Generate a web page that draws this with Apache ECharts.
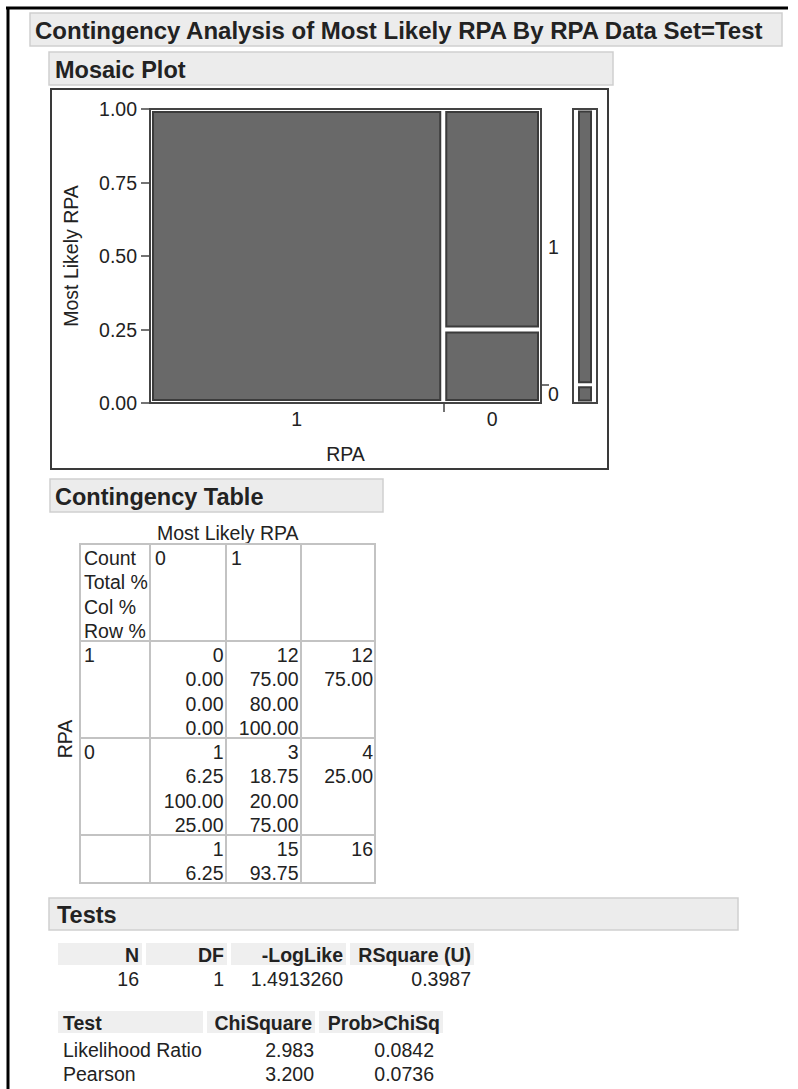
<!DOCTYPE html>
<html>
<head>
<meta charset="utf-8">
<script src="https://cdn.jsdelivr.net/npm/echarts@6/dist/echarts.min.js"></script>
<style>
html,body{margin:0;padding:0;background:#fff;}
#c{width:798px;height:1089px;}
</style>
</head>
<body>
<div id="c"></div>
<script>
// ---------------- DATA ----------------
const titleText = 'Contingency Analysis of Most Likely RPA By RPA Data Set=Test';
const rpaLevels = ['1', '0'];            // X categories (RPA), left to right
const mostLikelyLevels = ['0', '1'];     // Y categories (Most Likely RPA), bottom to top
const counts = [[0, 12], [1, 3]];        // counts[rpa][mostLikely]
const rowTotalCounts = [12, 4];
const colTotalCounts = [1, 15];
const grandTotal = 16;
const yTickValues = [0, 0.25, 0.5, 0.75, 1];
const cellLabels = ['Count', 'Total %', 'Col %', 'Row %'];
const totalPct = [['0.00', '75.00'], ['6.25', '18.75']];
const colPct = [['0.00', '80.00'], ['100.00', '20.00']];
const rowPct = [['0.00', '100.00'], ['25.00', '75.00']];
const rowTotalPct = ['75.00', '25.00'];
const colTotalPct = ['6.25', '93.75'];
const statsHeaders = ['N', 'DF', '-LogLike', 'RSquare (U)'];
const statsValues = ['16', '1', '1.4913260', '0.3987'];
const testHeaders = ['Test', 'ChiSquare', 'Prob>ChiSq'];
const testNames = ['Likelihood Ratio', 'Pearson'];
const testChiSquare = ['2.983', '3.200'];
const testProb = ['0.0842', '0.0736'];

// ---------------- LAYOUT / STYLE ----------------
const FF = '"Liberation Sans", Arial, sans-serif';
const TITLE_FONT = 'bold 24px ' + FF;
const HEAD_FONT = 'bold 23.5px ' + FF;
const BODY = 19.5;
const BODY_FONT = BODY + 'px ' + FF;
const BOLD_FONT = 'bold ' + BODY + 'px ' + FF;
const TXT = '#222222';
const CELL_FILL = '#696969';
const CELL_STROKE = '#3b3b3b';
const AX = '#444444';

// mosaic rectangles
const mosaicData = [];
let xc = 0;
rpaLevels.forEach((r, i) => {
  const w = rowTotalCounts[i] / grandTotal;
  let yc = 0;
  mostLikelyLevels.forEach((m, j) => {
    const h = counts[i][j] / rowTotalCounts[i];
    if (h > 0) mosaicData.push([xc, xc + w, yc, yc + h, i, j]);
    yc += h;
  });
  xc += w;
});
const xMids = [], xBounds = [];
xc = 0;
rpaLevels.forEach((r, i) => {
  const w = rowTotalCounts[i] / grandTotal;
  xMids.push(xc + w / 2);
  xc += w;
  if (i < rpaLevels.length - 1) xBounds.push(xc);
});
const marginData = [], yMids = [], yBounds = [];
let mc = 0;
mostLikelyLevels.forEach((m, j) => {
  const h = colTotalCounts[j] / grandTotal;
  marginData.push([0, 1, mc, mc + h, j]);
  yMids.push(mc + h / 2);
  mc += h;
  if (j < mostLikelyLevels.length - 1) yBounds.push(mc);
});
function nearestIdx(arr, v) {
  let b = 0;
  arr.forEach((a, i) => { if (Math.abs(a - v) < Math.abs(arr[b] - v)) b = i; });
  return b;
}

function cellRender(insetX, insetY) {
  return function (params, api) {
    const p0 = api.coord([api.value(0), api.value(2)]);
    const p1 = api.coord([api.value(1), api.value(3)]);
    const x = Math.min(p0[0], p1[0]) + insetX;
    const y = Math.min(p0[1], p1[1]) + insetY;
    const w = Math.abs(p1[0] - p0[0]) - 2 * insetX;
    const h = Math.abs(p1[1] - p0[1]) - 2 * insetY;
    return {
      type: 'rect',
      shape: { x: x, y: y, width: w, height: h },
      style: { fill: CELL_FILL, stroke: CELL_STROKE, lineWidth: 2 }
    };
  };
}

// ---------------- GRAPHIC (headers, tables) ----------------
const G = [];
function txt(x, y, s, font, align, extra) {
  const e = {
    type: 'text', x: x, y: y, silent: true,
    style: { text: s, font: font, fill: TXT, align: align || 'left', textAlign: align || 'left', verticalAlign: 'middle', textVerticalAlign: 'middle' }
  };
  if (extra) Object.assign(e, extra);
  G.push(e);
}
function rect(x, y, w, h, fill, stroke, lw) {
  G.push({ type: 'rect', silent: true, shape: { x: x, y: y, width: w, height: h },
    style: { fill: fill, stroke: stroke || null, lineWidth: lw || 0 } });
}
function line(x1, y1, x2, y2, color, lw) {
  G.push({ type: 'line', silent: true, shape: { x1: x1, y1: y1, x2: x2, y2: y2 },
    style: { stroke: color, lineWidth: lw } });
}
// outer frame
line(6, 8, 788, 8, '#000', 3);
line(8, 7, 8, 1089, '#000', 3);
// header boxes
function headBox(x, y, w, h, s, tx, font) {
  rect(x, y, w, h, '#ececec', '#cfcfcf', 1.5);
  txt(tx, y + h / 2 + 1, s, font || HEAD_FONT, 'left');
}
headBox(30, 13, 752, 33, titleText, 35, TITLE_FONT);
headBox(49, 52, 564, 33, 'Mosaic Plot', 55);
headBox(50, 479, 333, 33, 'Contingency Table', 55);
headBox(49, 898, 689, 32, 'Tests', 57);
// mosaic frame
rect(51, 89, 557, 380, null, '#3a3a3a', 2);

// contingency table
const colX = [80, 150, 226, 301, 375];
const rowY = [544, 641, 738, 835, 883];
const LH = 24.3;
const GL = '#c3c3c3';
txt(157, 533, 'Most Likely RPA', BODY_FONT, 'left');
txt(65, 739, 'RPA', BODY_FONT, 'center', { rotation: Math.PI / 2 });
rowY.forEach(y => line(colX[0] - 1, y, colX[4] + 1, y, GL, 2));
colX.forEach(x => line(x, rowY[0], x, rowY[4], GL, 2));
cellLabels.forEach((s, k) => txt(colX[0] + 4, rowY[0] + 14 + k * LH, s, BODY_FONT, 'left'));
mostLikelyLevels.forEach((m, j) => txt(colX[j + 1] + 5, rowY[0] + 14, m, BODY_FONT, 'left'));
rpaLevels.forEach((r, i) => {
  const y0 = rowY[i + 1] + 14;
  txt(colX[0] + 4, y0, r, BODY_FONT, 'left');
  mostLikelyLevels.forEach((m, j) => {
    const xr = colX[j + 2] - 2.5;
    [String(counts[i][j]), totalPct[i][j], colPct[i][j], rowPct[i][j]].forEach((s, k) =>
      txt(xr, y0 + k * LH, s, BODY_FONT, 'right'));
  });
  txt(colX[4] - 2, y0, String(rowTotalCounts[i]), BODY_FONT, 'right');
  txt(colX[4] - 2, y0 + LH, rowTotalPct[i], BODY_FONT, 'right');
});
const yT = rowY[3] + 14;
mostLikelyLevels.forEach((m, j) => {
  const xr = colX[j + 2] - 2.5;
  txt(xr, yT, String(colTotalCounts[j]), BODY_FONT, 'right');
  txt(xr, yT + LH, colTotalPct[j], BODY_FONT, 'right');
});
txt(colX[4] - 2, yT, String(grandTotal), BODY_FONT, 'right');

// tests: summary table
const statCells = [[58, 142], [146, 227], [231, 346], [350, 474]];
statsHeaders.forEach((s, k) => {
  rect(statCells[k][0], 943, statCells[k][1] - statCells[k][0], 22, '#efefef');
  txt(statCells[k][1] - 3, 955, s, BOLD_FONT, 'right');
  txt(statCells[k][1] - 3, 979, statsValues[k], BODY_FONT, 'right');
});
// tests: chi-square table
const testCells = [[58, 203], [207, 315], [319, 443]];
testHeaders.forEach((s, k) => {
  rect(testCells[k][0], 1011, testCells[k][1] - testCells[k][0], 22, '#efefef');
  if (k === 0) txt(testCells[k][0] + 5, 1023, s, BOLD_FONT, 'left');
  else txt(testCells[k][1] - 3, 1023, s, BOLD_FONT, 'right');
});
testNames.forEach((s, r) => {
  const y = 1050 + r * 24;
  txt(63, y, s, BODY_FONT, 'left');
  txt(314, y, testChiSquare[r], BODY_FONT, 'right');
  txt(434, y, testProb[r], BODY_FONT, 'right');
});

// ---------------- CHART ----------------
const chart = echarts.init(document.getElementById('c'), null, { renderer: 'svg' });
const labelStyle = { fontFamily: FF, fontSize: BODY, color: TXT };
chart.setOption({
  animation: false,
  backgroundColor: '#fff',
  grid: [
    { left: 150, top: 109, width: 391, height: 294, show: true, borderColor: AX, borderWidth: 2, backgroundColor: 'transparent' },
    { left: 573, top: 109, width: 24, height: 294, show: true, borderColor: AX, borderWidth: 2, backgroundColor: 'transparent' }
  ],
  xAxis: [
    {
      gridIndex: 0, type: 'value', min: 0, max: 1,
      name: 'RPA', nameLocation: 'middle', nameGap: 41,
      nameTextStyle: labelStyle,
      axisLine: { show: true, lineStyle: { color: AX, width: 2 } },
      axisTick: { show: true, customValues: xBounds, length: 9, lineStyle: { color: AX, width: 1.5 } },
      axisLabel: Object.assign({ customValues: xMids, margin: 6,
        formatter: v => rpaLevels[nearestIdx(xMids, v)] }, labelStyle),
      splitLine: { show: false }
    },
    { gridIndex: 1, type: 'value', min: 0, max: 1, show: false }
  ],
  yAxis: [
    {
      gridIndex: 0, type: 'value', min: 0, max: 1, interval: 0.25,
      name: 'Most Likely RPA', nameLocation: 'middle', nameGap: 69, nameRotate: 90,
      nameTextStyle: labelStyle,
      axisLine: { show: true, lineStyle: { color: AX, width: 2 } },
      axisTick: { show: true, customValues: yTickValues, length: 9, lineStyle: { color: AX, width: 1.5 } },
      axisLabel: Object.assign({ customValues: yTickValues, margin: 13, formatter: v => v.toFixed(2) }, labelStyle),
      splitLine: { show: false }
    },
    {
      gridIndex: 0, type: 'value', min: 0, max: 1, position: 'right',
      axisLine: { show: false },
      axisTick: { show: true, customValues: yBounds, length: 8, lineStyle: { color: AX, width: 1.5 } },
      axisLabel: Object.assign({ customValues: yMids, margin: 7,
        formatter: v => mostLikelyLevels[nearestIdx(yMids, v)] }, labelStyle),
      splitLine: { show: false }
    },
    { gridIndex: 1, type: 'value', min: 0, max: 1, show: false }
  ],
  series: [
    {
      type: 'custom', xAxisIndex: 0, yAxisIndex: 0,
      renderItem: cellRender(3, 3), data: mosaicData, silent: true
    },
    {
      type: 'custom', xAxisIndex: 1, yAxisIndex: 2,
      renderItem: cellRender(6, 2.5), data: marginData, silent: true
    }
  ],
  graphic: { elements: G }
});
</script>
</body>
</html>
